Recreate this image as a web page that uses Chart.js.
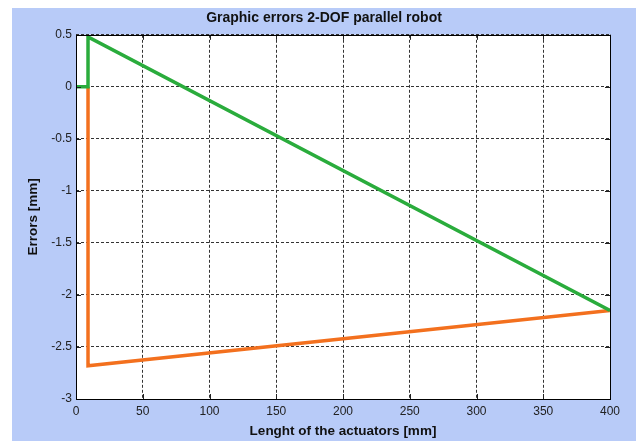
<!DOCTYPE html>
<html>
<head>
<meta charset="utf-8">
<script src="https://cdn.jsdelivr.net/npm/chart.js@4/dist/chart.umd.min.js"></script>
<style>
html,body{margin:0;padding:0;background:#fff;}
#wrap{width:637px;height:441px;position:relative;}
</style>
</head>
<body>
<div id="wrap"><canvas id="c" width="637" height="441"></canvas></div>
<script>
// ---- data ----
const titleText = "Graphic errors 2-DOF parallel robot";
const xTitle = "Lenght of the actuators [mm]";
const yTitle = "Errors [mm]";
const xTicks = [0, 50, 100, 150, 200, 250, 300, 350, 400];
const yTicks = [0.5, 0, -0.5, -1, -1.5, -2, -2.5, -3];
const greenX = [0, 9, 9, 400];
const greenY = [0, 0, 0.48, -2.15];
const orangeX = [9, 9, 400];
const orangeY = [0, -2.68, -2.15];

const toPts = (xs, ys) => xs.map((x, i) => ({x: x, y: ys[i]}));

const bgPlugin = {
  id: 'bg',
  beforeDraw(chart) {
    const ctx = chart.ctx, a = chart.chartArea;
    ctx.save();
    ctx.fillStyle = '#ffffff';
    ctx.fillRect(0, 0, chart.width, chart.height);
    ctx.fillStyle = '#B8CBF8';
    ctx.fillRect(12, 8, chart.width - 13, chart.height - 8);
    ctx.fillStyle = '#ffffff';
    ctx.fillRect(a.left, a.top, a.right - a.left, a.bottom - a.top);
    ctx.restore();
  },
  afterDraw(chart) {
    const ctx = chart.ctx, a = chart.chartArea;
    const xs = chart.scales.x, ys = chart.scales.y;
    ctx.save();
    ctx.strokeStyle = '#222';
    ctx.lineWidth = 1;
    ctx.beginPath();
    const tl = 5;
    xTicks.forEach(v => {
      const px = Math.round(xs.getPixelForValue(v)) + 0.5;
      ctx.moveTo(px, a.bottom); ctx.lineTo(px, a.bottom - tl);
      ctx.moveTo(px, a.top); ctx.lineTo(px, a.top + tl);
    });
    yTicks.forEach(v => {
      const py = Math.round(ys.getPixelForValue(v)) + 0.5;
      ctx.moveTo(a.left, py); ctx.lineTo(a.left + tl, py);
      ctx.moveTo(a.right, py); ctx.lineTo(a.right - tl, py);
    });
    ctx.stroke();
    ctx.strokeStyle = '#000';
    ctx.strokeRect(Math.round(a.left) + 0.5, Math.round(a.top) + 0.5,
                   Math.round(a.right - a.left), Math.round(a.bottom - a.top));
    ctx.restore();
  }
};

new Chart(document.getElementById('c'), {
  type: 'scatter',
  data: {
    datasets: [
      {data: toPts(orangeX, orangeY), showLine: true, borderColor: 'rgb(243,112,30)',
       borderWidth: 3.5, pointRadius: 0, fill: false, tension: 0, order: 2},
      {data: toPts(greenX, greenY), showLine: true, borderColor: 'rgb(42,172,60)',
       borderWidth: 3.5, pointRadius: 0, fill: false, tension: 0, order: 1}
    ]
  },
  options: {
    responsive: false,
    animation: false,
    layout: {padding: {left: 12, right: 1, top: 0, bottom: 0}},
    plugins: {
      legend: {display: false},
      tooltip: {enabled: false},
      title: {display: true, text: titleText, color: '#111',
              font: {family: 'Liberation Sans, Arial, sans-serif', size: 14, weight: 'bold', lineHeight: 1.2},
              padding: {top: 10, bottom: 8}}
    },
    scales: {
      x: {
        type: 'linear', min: 0, max: 400,
        afterBuildTicks(s) { s.ticks = xTicks.map(v => ({value: v})); },
        afterFit(s) { s.height = 42; },
        grid: {color: '#333', drawTicks: false, tickLength: 0},
        border: {display: false, dash: [3, 2]},
        ticks: {color: '#222', padding: 5, maxRotation: 0, autoSkip: false,
                font: {family: 'Liberation Sans, Arial, sans-serif', size: 12}},
        title: {display: true, text: xTitle, color: '#111',
                font: {family: 'Liberation Sans, Arial, sans-serif', size: 13.5, weight: 'bold', lineHeight: 1.2},
                padding: {top: 0, bottom: 2}}
      },
      y: {
        type: 'linear', min: -3, max: 0.5,
        afterBuildTicks(s) { s.ticks = yTicks.map(v => ({value: v})); },
        afterFit(s) { s.width = 64; },
        grid: {color: '#333', drawTicks: false, tickLength: 0},
        border: {display: false, dash: [3, 2]},
        ticks: {color: '#222', padding: 4, autoSkip: false,
                font: {family: 'Liberation Sans, Arial, sans-serif', size: 12},
                callback: v => String(v)},
        title: {display: true, text: yTitle, color: '#111',
                font: {family: 'Liberation Sans, Arial, sans-serif', size: 13.5, weight: 'bold', lineHeight: 1.2},
                padding: {top: 13, bottom: 0}}
      },
      yRight: {
        type: 'linear', position: 'right', min: -3, max: 0.5, display: true,
        afterFit(s) { s.width = 26; },
        grid: {display: false, drawTicks: false},
        border: {display: false},
        ticks: {display: false}
      }
    }
  },
  plugins: [bgPlugin]
});
</script>
</body>
</html>
